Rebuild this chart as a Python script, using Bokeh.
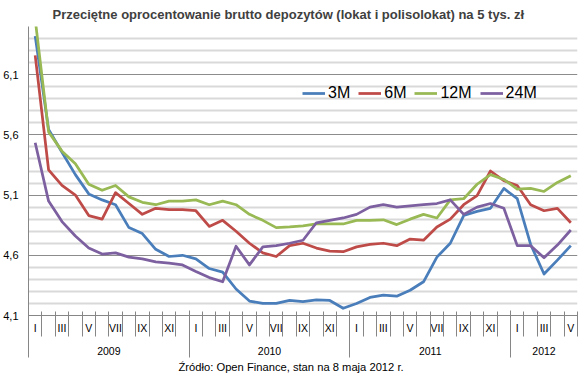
from bokeh.plotting import figure
from bokeh.models import Range1d, FixedTicker, LinearAxis, Legend, LegendItem, Grid, Title
from bokeh.embed import file_html
from bokeh.resources import INLINE

# ---- data ----
years = ["2009", "2010", "2011", "2012"]
months_in_year = [12, 12, 12, 5]
roman = ["I", "II", "III", "IV", "V", "VI", "VII", "VIII", "IX", "X", "XI", "XII"]

rate_3m = [6.42, 5.645, 5.456, 5.27, 5.11, 5.06, 5.02, 4.83, 4.78, 4.65, 4.59, 4.60,
           4.57, 4.49, 4.46, 4.32, 4.22, 4.20, 4.20, 4.225, 4.215, 4.23, 4.225, 4.16,
           4.20, 4.25, 4.27, 4.26, 4.31, 4.38, 4.585, 4.70, 4.93, 4.965, 4.99, 5.155,
           5.07, 4.69, 4.445, 4.56, 4.68]
rate_6m = [6.26, 5.31, 5.18, 5.10, 4.93, 4.90, 5.12, 5.03, 4.94, 4.99, 4.98, 4.98,
           4.97, 4.84, 4.89, 4.80, 4.70, 4.62, 4.59, 4.68, 4.70, 4.66, 4.635, 4.63,
           4.67, 4.69, 4.70, 4.68, 4.735, 4.725, 4.835, 4.90, 5.02, 5.095, 5.30, 5.22,
           5.18, 5.02, 4.97, 4.99, 4.87]
rate_12m = [6.56, 5.625, 5.465, 5.36, 5.19, 5.14, 5.18, 5.085, 5.04, 5.02, 5.05, 5.05,
            5.06, 5.02, 5.05, 5.02, 4.94, 4.89, 4.83, 4.835, 4.845, 4.86, 4.86, 4.86,
            4.89, 4.89, 4.895, 4.855, 4.90, 4.94, 4.91, 5.06, 5.07, 5.19, 5.27, 5.23,
            5.15, 5.155, 5.13, 5.205, 5.26]
rate_24m = [5.535, 5.05, 4.88, 4.76, 4.66, 4.61, 4.62, 4.585, 4.57, 4.545, 4.535, 4.52,
            4.465, 4.415, 4.38, 4.675, 4.52, 4.67, 4.68, 4.70, 4.725, 4.87, 4.89, 4.91,
            4.94, 5.00, 5.02, 5.00, 5.01, 5.02, 5.03, 5.06, 4.94, 5.00, 5.03, 4.99,
            4.68, 4.68, 4.58, 4.685, 4.81]
series_names = ["3M", "6M", "12M", "24M"]
series_colors = ["#4A7EBB", "#BE4B48", "#98B954", "#7D60A0"]

y_ticks = [4.1, 4.6, 5.1, 5.6, 6.1]
y_tick_labels = ["4,1", "4,6", "5,1", "5,6", "6,1"]

title_text = "Przeciętne oprocentowanie  brutto depozytów (lokat i polisolokat) na 5 tys. zł"
source_text = "Źródło: Open Finance, stan na 8 maja 2012 r."

# ---- derived category positions ----
n = sum(months_in_year)
x = [i + 0.5 for i in range(n)]
month_ticks = [i + 0.5 for i in range(n) if i % 2 == 0]
month_overrides = {i + 0.5: roman[i % 12] for i in range(n) if i % 2 == 0}
month_bounds = list(range(n + 1))
year_bounds = []
year_centers = []
start = 0
for m in months_in_year:
    year_bounds.append(start)
    year_centers.append(start + m / 2)
    start += m
year_overrides = dict(zip(year_centers, years))

AXIS_GRAY = "#868686"

p = figure(width=579, height=373, x_range=Range1d(0, n), y_range=Range1d(4.1, 6.5),
           x_axis_type=None, y_axis_type=None, output_backend="svg",
           toolbar_location=None, min_border_left=28, min_border_right=2,
           min_border_top=0, min_border_bottom=0)
p.outline_line_color = None
p.background_fill_color = "white"
p.border_fill_color = "white"

minor_y = [round(4.1 + 0.1 * k, 1) for k in range(25)]
minor_y = [v for v in minor_y if v not in y_ticks]
grid = Grid(dimension=1, ticker=FixedTicker(ticks=y_ticks, minor_ticks=minor_y),
            grid_line_color="#8C8C8C", grid_line_width=1,
            minor_grid_line_color="#D9D9D9", minor_grid_line_width=2)
p.add_layout(grid)

yaxis = LinearAxis(ticker=FixedTicker(ticks=y_ticks, minor_ticks=[]),
                   major_label_overrides=dict(zip(y_ticks, y_tick_labels)),
                   major_tick_out=0, major_tick_in=0, minor_tick_out=0, minor_tick_in=0,
                   axis_line_color=AXIS_GRAY, major_label_standoff=10,
                   major_label_text_font="Liberation Sans",
                   major_label_text_font_size="11px", major_label_text_color="#000000")
p.add_layout(yaxis, "left")

# month labels (axis line = bottom of plot)
xa = LinearAxis(ticker=FixedTicker(ticks=month_ticks, minor_ticks=[]),
                major_label_overrides=month_overrides,
                major_tick_out=0, major_tick_in=0, minor_tick_out=0, minor_tick_in=0,
                axis_line_color=AXIS_GRAY,
                major_label_standoff=6, major_label_text_font="Liberation Sans",
                major_label_text_font_size="10.5px", major_label_text_color="#000000")
p.add_layout(xa, "below")

# year labels + month boundary ticks reaching slightly above the axis line
xb = LinearAxis(ticker=FixedTicker(ticks=year_centers, minor_ticks=month_bounds),
                major_label_overrides=year_overrides,
                major_tick_out=0, major_tick_in=0, minor_tick_out=0, minor_tick_in=25,
                minor_tick_line_color=AXIS_GRAY, axis_line_color=None,
                major_label_standoff=10, major_label_text_font="Liberation Sans",
                major_label_text_font_size="10.5px", major_label_text_color="#000000")
p.add_layout(xb, "below")

# long year separators
xc = LinearAxis(ticker=FixedTicker(ticks=[], minor_ticks=year_bounds),
                major_tick_out=0, major_tick_in=0, minor_tick_out=0, minor_tick_in=47,
                minor_tick_line_color=AXIS_GRAY, axis_line_color=None,
                major_label_standoff=0, major_label_text_font_size="0px")
p.add_layout(xc, "below")

src = Title(text=source_text, align="left", offset=150, text_font="Liberation Sans",
            text_font_size="11.2px", text_font_style="normal", text_color="#000000",
            standoff=2)
p.add_layout(src, "below")

p.title.text = title_text
p.title.align = "left"
p.title.offset = 24
p.title.text_font = "Liberation Sans"
p.title.text_font_size = "13px"
p.title.text_font_style = "bold"
p.title.text_color = "#404040"
p.title.standoff = 9

items = []
for name, vals, col in zip(series_names, [rate_3m, rate_6m, rate_12m, rate_24m], series_colors):
    r = p.line(x, vals, line_color=col, line_width=2.75, line_join="round")
    items.append(LegendItem(label=name, renderers=[r]))

legend = Legend(items=items, orientation="horizontal", location=(274, 212),
                border_line_color=None, background_fill_alpha=0, padding=0, margin=0,
                spacing=8, glyph_width=23, glyph_height=20, label_standoff=3,
                label_text_font="Liberation Sans", label_text_font_size="16px",
                label_text_color="#000000", label_width=0)
p.add_layout(legend)

open("out.html", "w").write(file_html(p, INLINE))
